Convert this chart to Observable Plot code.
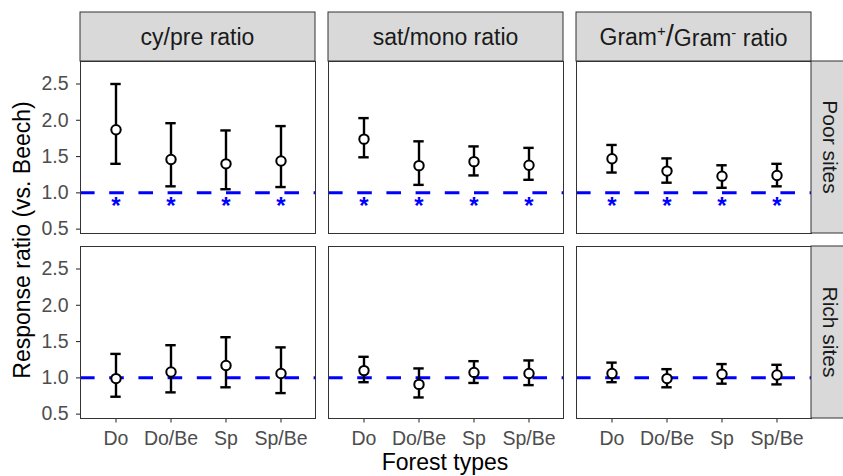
<!DOCTYPE html>
<html>
<head>
<meta charset="utf-8">
<script src="https://cdn.jsdelivr.net/npm/d3@7"></script>
<script src="https://cdn.jsdelivr.net/npm/@observablehq/plot@0.6"></script>
<style>
  html, body { margin: 0; padding: 0; background: white; overflow: hidden; }
  svg { display: block; }
</style>
</head>
<body>
<div id="chart"></div>
<script>
// ---- data ----
const types = ["Do", "Do/Be", "Sp", "Sp/Be"];
const ratios = ["cypre", "satmono", "gram"];
const sites = ["Poor sites", "Rich sites"];
const yTicks = [0.5, 1.0, 1.5, 2.0, 2.5];

const cyPrePoorMean = [1.87, 1.46, 1.40, 1.44];
const cyPrePoorLow  = [1.40, 1.09, 1.05, 1.08];
const cyPrePoorHigh = [2.50, 1.96, 1.86, 1.92];

const satMonoPoorMean = [1.74, 1.375, 1.43, 1.38];
const satMonoPoorLow  = [1.49, 1.11, 1.24, 1.18];
const satMonoPoorHigh = [2.03, 1.71, 1.64, 1.62];

const gramPoorMean = [1.47, 1.30, 1.23, 1.24];
const gramPoorLow  = [1.28, 1.14, 1.07, 1.09];
const gramPoorHigh = [1.66, 1.475, 1.38, 1.40];

const cyPreRichMean = [0.99, 1.08, 1.17, 1.06];
const cyPreRichLow  = [0.74, 0.80, 0.87, 0.79];
const cyPreRichHigh = [1.33, 1.45, 1.56, 1.42];

const satMonoRichMean = [1.10, 0.91, 1.075, 1.06];
const satMonoRichLow  = [0.94, 0.73, 0.93, 0.90];
const satMonoRichHigh = [1.29, 1.13, 1.23, 1.24];

const gramRichMean = [1.06, 0.99, 1.05, 1.04];
const gramRichLow  = [0.94, 0.87, 0.92, 0.91];
const gramRichHigh = [1.21, 1.12, 1.19, 1.18];

// significance markers (Poor sites, every forest type, every ratio)
const starSite = "Poor sites";
const starY = 0.81;

// ---- build table ----
const series = [
  ["cypre", "Poor sites", cyPrePoorMean, cyPrePoorLow, cyPrePoorHigh],
  ["satmono", "Poor sites", satMonoPoorMean, satMonoPoorLow, satMonoPoorHigh],
  ["gram", "Poor sites", gramPoorMean, gramPoorLow, gramPoorHigh],
  ["cypre", "Rich sites", cyPreRichMean, cyPreRichLow, cyPreRichHigh],
  ["satmono", "Rich sites", satMonoRichMean, satMonoRichLow, satMonoRichHigh],
  ["gram", "Rich sites", gramRichMean, gramRichLow, gramRichHigh]
];
const rows = [];
for (const [ratio, site, m, lo, hi] of series) {
  types.forEach((t, i) => rows.push({ratio, site, type: t, mean: m[i], lo: lo[i], hi: hi[i]}));
}
const stars = [];
for (const ratio of ratios) for (const t of types) stars.push({ratio, site: starSite, type: t, y: starY});

const FONT = "'Liberation Sans', Arial, Helvetica, sans-serif";
const W = 843, H = 476;
const mL = 79, mR = 32, mT = 61, mB = 57;

const plot = Plot.plot({
  width: W, height: H,
  marginLeft: mL, marginRight: mR, marginTop: mT, marginBottom: mB,
  style: {fontFamily: FONT, background: "white", overflow: "visible"},
  fx: {domain: ratios, paddingInner: 0.053, paddingOuter: 0, axis: null, label: null},
  fy: {domain: sites, paddingInner: 0.07, paddingOuter: 0, axis: null, label: null},
  x: {type: "band", domain: types, paddingInner: 0, paddingOuter: 0.1, label: null},
  y: {domain: [0.44, 2.81], label: null},
  marks: [
    Plot.ruleY([1], {y: d => d, stroke: "#0000ff", strokeWidth: 3, strokeDasharray: "14.6,14.6"}),
    Plot.ruleX(rows, {x: "type", y1: "lo", y2: "hi", fx: "ratio", fy: "site", stroke: "black", strokeWidth: 2.4}),
    Plot.tickY(rows, {x: "type", y: "hi", fx: "ratio", fy: "site", stroke: "black", strokeWidth: 2.4, insetLeft: 22.3, insetRight: 22.3}),
    Plot.tickY(rows, {x: "type", y: "lo", fx: "ratio", fy: "site", stroke: "black", strokeWidth: 2.4, insetLeft: 22.3, insetRight: 22.3}),
    Plot.dot(rows, {x: "type", y: "mean", fx: "ratio", fy: "site", r: 4.7, fill: "white", stroke: "black", strokeWidth: 2}),
    Plot.text(stars, {x: "type", y: "y", fx: "ratio", fy: "site", text: () => "*", fill: "#0000ff", fontSize: 24, fontWeight: "bold"}),
    Plot.frame({stroke: "#333", strokeWidth: 1}),
    Plot.axisX({anchor: "bottom", tickSize: 4.5, tickPadding: 8, stroke: "#333", strokeWidth: 1.1, fill: "#4d4d4d", fontSize: 19.5, label: null}),
    Plot.axisY({anchor: "left", ticks: yTicks, tickFormat: d3.format(".1f"), tickSize: 4, tickPadding: 8, stroke: "#333", strokeWidth: 1.1, fill: "#4d4d4d", fontSize: 19.5, label: null})
  ]
});
document.getElementById("chart").appendChild(plot);

// ---- strips & titles, positioned from the plot's facet scales ----
const svg = d3.select(plot);
const fxS = plot.scale("fx"), fyS = plot.scale("fy");
const fxBand = d3.scaleBand().domain(fxS.domain).range(fxS.range).paddingInner(0.053).paddingOuter(0);
const fyBand = d3.scaleBand().domain(fyS.domain).range(fyS.range).paddingInner(0.07).paddingOuter(0);
const fxPos = v => (fxS.apply ? fxS.apply(v) : fxBand(v));
const fyPos = v => (fyS.apply ? fyS.apply(v) : fyBand(v));
const fxBW = fxS.bandwidth ?? fxBand.bandwidth();
const fyBW = fyS.bandwidth ?? fyBand.bandwidth();

const strips = svg.append("g").attr("font-family", FONT);
const stripTop = 12;
for (const r of ratios) {
  const x0 = fxPos(r);
  strips.append("rect").attr("x", x0).attr("y", stripTop).attr("width", fxBW).attr("height", mT - stripTop)
    .attr("fill", "#d9d9d9").attr("stroke", "#333").attr("stroke-width", 1);
  const t = strips.append("text").attr("x", x0 + fxBW / 2).attr("y", (stripTop + mT) / 2).attr("dy", "0.35em")
    .attr("text-anchor", "middle").attr("font-size", 23).attr("fill", "#1a1a1a");
  if (r === "cypre") t.text("cy/pre ratio");
  else if (r === "satmono") t.text("sat/mono ratio");
  else {
    t.append("tspan").text("Gram");
    t.append("tspan").attr("font-size", 15).attr("dy", "-0.55em").text("+");
    t.append("tspan").attr("font-size", 29).attr("dy", "0.35em").text("/");
    t.append("tspan").attr("font-size", 23).attr("dy", "0em").text("Gram");
    t.append("tspan").attr("font-size", 15).attr("dy", "-0.55em").text("-");
    t.append("tspan").attr("font-size", 23).attr("dy", "0.36em").text(" ratio");
  }
}
const panelRight = W - mR;
for (const s of sites) {
  const y0 = fyPos(s);
  strips.append("rect").attr("x", panelRight).attr("y", y0).attr("width", 60).attr("height", fyBW)
    .attr("fill", "#d9d9d9").attr("stroke", "#333").attr("stroke-width", 1);
  strips.append("text").attr("transform", `translate(${panelRight + 19},${y0 + fyBW / 2}) rotate(90)`)
    .attr("dy", "0.35em").attr("text-anchor", "middle").attr("font-size", 21).attr("fill", "#1a1a1a").text(s);
}
// axis titles
svg.append("text").attr("font-family", FONT).attr("font-size", 23).attr("fill", "black")
  .attr("text-anchor", "middle").attr("x", (mL + panelRight) / 2).attr("y", 470).text("Forest types");
svg.append("text").attr("font-family", FONT).attr("font-size", 23).attr("fill", "black")
  .attr("text-anchor", "middle").attr("transform", `translate(30,${(mT + H - mB) / 2}) rotate(-90)`).text("Response ratio (vs. Beech)");
</script>
</body>
</html>
